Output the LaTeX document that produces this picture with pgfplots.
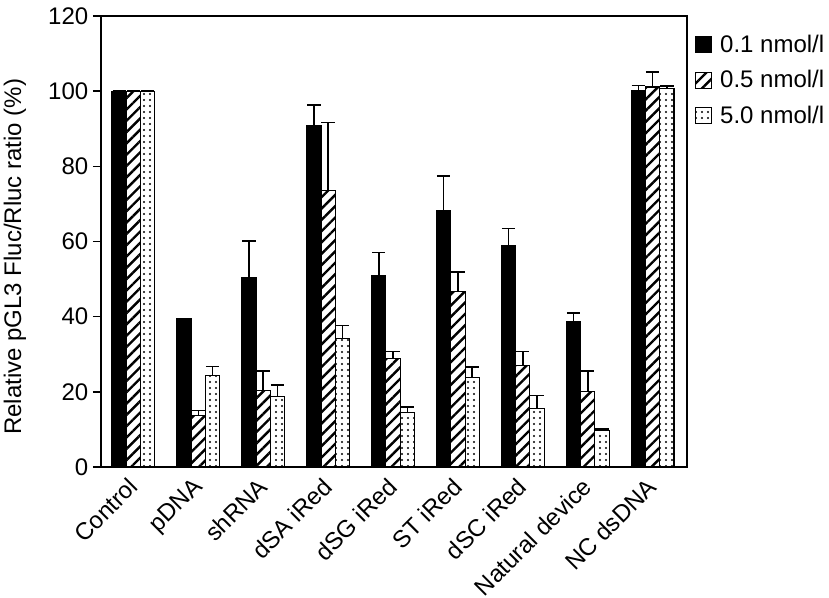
\documentclass[border=0pt]{standalone}
\usepackage{fontspec}
\setmainfont{Liberation Sans}
\usepackage{pgfplots}
\pgfplotsset{compat=1.18}
\usetikzlibrary{patterns.meta}
\newcommand{\fs}{\fontsize{18}{21}\selectfont}
\begin{document}
\begin{tikzpicture}
\begin{axis}[
  scale only axis, width=439.5pt, height=338.25pt,
  xmin=-0.5, xmax=8.53, ymin=0, ymax=120,
  ytick={0,20,...,120},
  xtick={0,...,8},
  xticklabels={Control,pDNA,shRNA,dSA iRed,dSG iRed,ST iRed,dSC iRed,Natural device,NC dsDNA},
  x tick label style={xshift=-5pt, yshift=2pt, rotate=45, anchor=north east, inner sep=2pt},
  major x tick style={draw=none},
  ytick pos=left, tick align=outside, major tick length=6pt,
  axis line style={line width=1.4pt},
  every tick/.style={line width=1.2pt, black},
  /pgf/number format/assume math mode=true,
  tick label style={font=\fs},
  label style={font=\fs},
  ylabel={Relative pGL3 Fluc/Rluc ratio (\%)},
  ylabel style={at={(axis description cs:-0.147,0.466)}, anchor=center},
  ybar, bar width=0.22,
  error bars/y dir=plus, error bars/y explicit,
  error bars/error bar style={line width=1.2pt, black},
  error bars/error mark options={rotate=90, mark size=5pt, line width=1.2pt, black},
  legend entries={0.1 nmol/l, 0.5 nmol/l, 5.0 nmol/l},
  legend cell align=left,
  legend style={draw=none, fill=none, at={(1,1)}, anchor=north west, xshift=3pt, yshift=-10pt, font=\fs, row sep=8pt},
  legend image code/.code={\draw[#1, line width=0.6pt] (0pt,-6pt) rectangle (12pt,6pt); \path (16pt,0pt);},
]
\addplot[bar shift=-0.22, draw=black, line width=0.8pt, fill=black] coordinates {
 (0,100) +- (0,0)
 (1,39.4) +- (0,0)
 (2,50.3) +- (0,9.9)
 (3,90.8) +- (0,5.5)
 (4,50.9) +- (0,6.2)
 (5,68.3) +- (0,9.2)
 (6,59.0) +- (0,4.5)
 (7,38.8) +- (0,2.2)
 (8,100.1) +- (0,1.4)
};
\addplot[bar shift=0, draw=black, line width=0.8pt, fill=white, postaction={pattern={Lines[angle=45, distance=6pt, line width=1.8pt]}}] coordinates {
 (0,100) +- (0,0)
 (1,13.8) +- (0,1.2)
 (2,20.3) +- (0,5.2)
 (3,73.5) +- (0,18.2)
 (4,28.9) +- (0,1.8)
 (5,46.8) +- (0,5.1)
 (6,27.1) +- (0,3.6)
 (7,20.2) +- (0,5.3)
 (8,101.1) +- (0,4.0)
};
\addplot[bar shift=0.22, draw=black, line width=0.8pt, fill=white, postaction={pattern={Dots[distance=4.5pt, radius=0.9pt]}}] coordinates {
 (0,100) +- (0,0)
 (1,24.3) +- (0,2.4)
 (2,18.7) +- (0,3.1)
 (3,34.1) +- (0,3.5)
 (4,14.5) +- (0,1.5)
 (5,23.7) +- (0,2.9)
 (6,15.6) +- (0,3.4)
 (7,9.7) +- (0,0.4)
 (8,100.6) +- (0,0.8)
};
\end{axis}
\pgfresetboundingbox
\path[use as bounding box] (-75.75pt,-98.25pt) rectangle (546pt,350.25pt);
\end{tikzpicture}
\end{document}
